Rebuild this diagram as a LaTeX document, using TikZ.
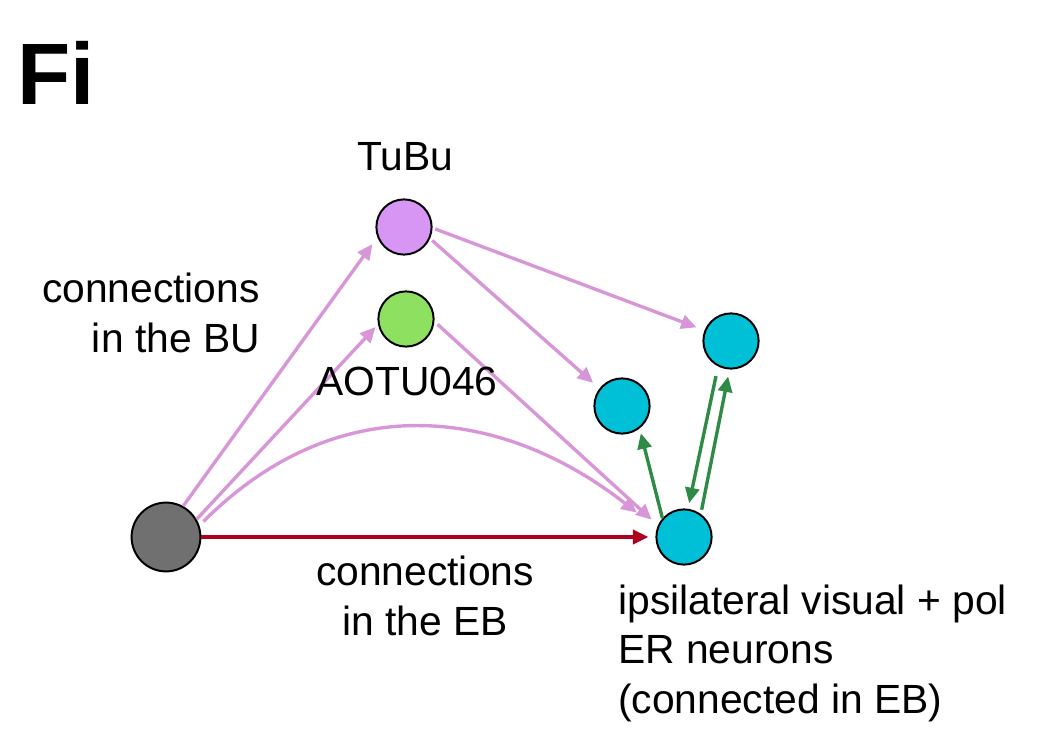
\documentclass[tikz,border=0pt]{standalone}
\usepackage{fontspec}
\setmainfont{Liberation Sans}
\usetikzlibrary{arrows.meta}

\definecolor{bupink}{RGB}{216,150,216}
\definecolor{tubufill}{RGB}{216,150,244}
\definecolor{aotufill}{RGB}{142,224,96}
\definecolor{erfill}{RGB}{0,192,216}
\definecolor{srcfill}{RGB}{112,112,112}
\definecolor{ebred}{RGB}{176,0,32}
\definecolor{ergreen}{RGB}{46,139,69}

\begin{document}
\begin{tikzpicture}[x=0.025cm, y=0.025cm,
    cell/.style={circle, draw=black, line width=1.4pt, minimum size=1.38cm, inner sep=0pt},
    label/.style={inner sep=0pt, font=\fontsize{29}{35}\selectfont},
    tip/.style={-{Triangle[length=11pt,width=10pt]}},
    buarrow/.style={tip, draw=bupink, line width=2.4pt},
    ebarrow/.style={tip, draw=ebred, line width=2.4pt},
    erarrow/.style={tip, draw=ergreen, line width=2.4pt}]

    \useasboundingbox (0,0) rectangle (1044,752);

    % cells
    \node[cell, fill=srcfill, minimum size=1.72cm] (src) at (166,215) {};
    \node[cell, fill=tubufill] (tubu) at (404,525) {};
    \node[cell, fill=aotufill] (aotu) at (406,433) {};
    \node[cell, fill=erfill] (erA) at (731,411) {};
    \node[cell, fill=erfill] (erB) at (622,346) {};
    \node[cell, fill=erfill] (erC) at (684,215) {};

    % connections in the BU
    \draw[buarrow, shorten >=6pt] (src.61) -- (tubu.201);
    \draw[buarrow, shorten >=2.5pt] (src.30) -- (aotu.191);
    \draw[buarrow, shorten <=4pt, shorten >=18pt] (src.19) to[out=45, in=142, looseness=1.1] (erC.162);
    \draw[buarrow, shorten <=3pt, shorten >=6pt] (aotu.355) -- (erC.156);
    \draw[buarrow, shorten <=2pt, shorten >=6pt] (tubu.336) -- (erB.142);
    \draw[buarrow, shorten <=2pt, shorten >=6pt] (tubu.358) -- (erA.158);

    % connections in the EB
    \draw[ebarrow, shorten >=5pt] (src.east) -- (erC.west);
    \draw[erarrow, shorten >=3.5pt] (erC.139) -- (erB.308);
    \draw[erarrow, shorten <=7pt, shorten >=4pt] (erA.243) -- (erC.82);
    \draw[erarrow, shorten <=3pt, shorten >=5pt] (erC.54) -- (erA.267);

    % panel letter and labels
    \node[label, anchor=base west, font=\fontsize{62}{66}\selectfont\bfseries] (panel) at (17,647) {Fi};
    \node[label, anchor=base] (tubutxt) at (405,581) {TuBu};
    \node[label, anchor=base] (aotutxt) at (407,357) {AOTU046};
    \node[label, anchor=base east, align=right] (butxt) at (260,400) {connections\\in the BU};
    \node[label, anchor=base, align=center] (ebtxt) at (425,117) {connections\\in the EB};
    \node[label, anchor=base west, align=left] (ertxt) at (618,39) {ipsilateral visual + pol\\ER neurons\\(connected in EB)};

\end{tikzpicture}
\end{document}
